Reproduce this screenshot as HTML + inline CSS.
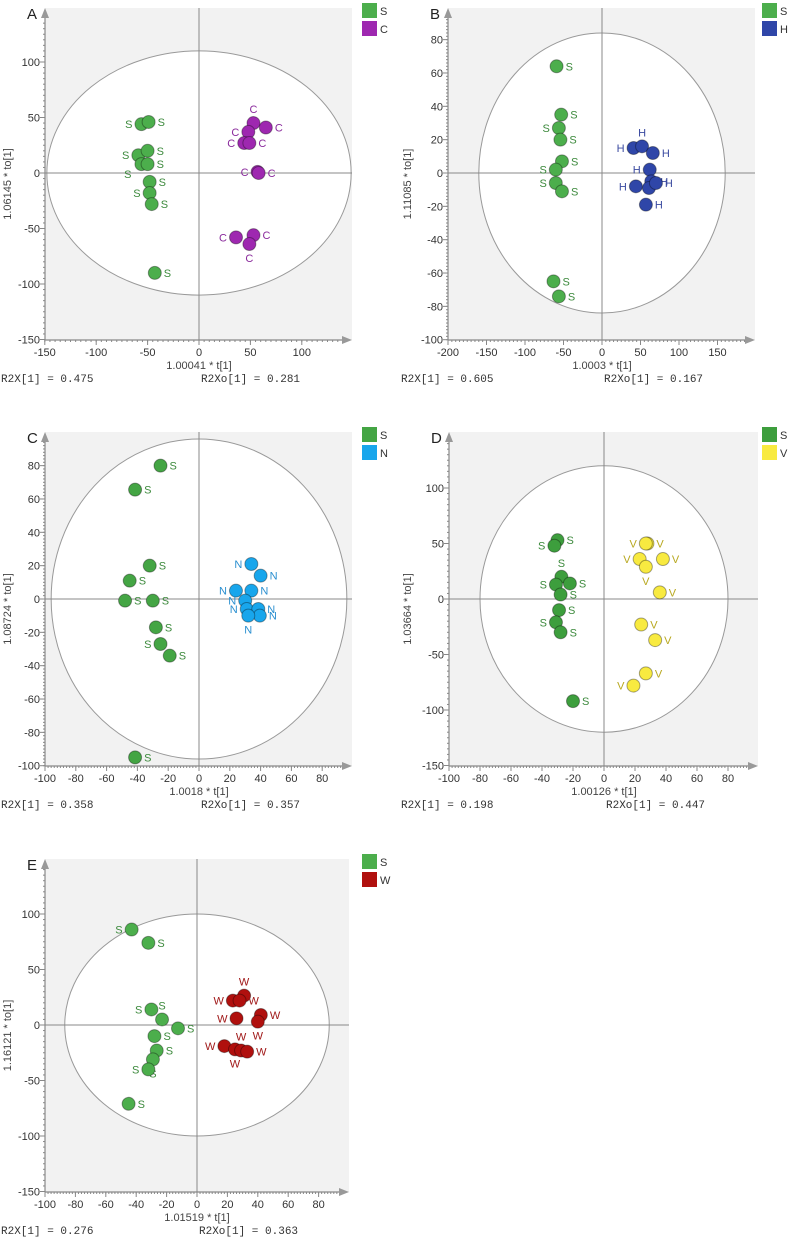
<!DOCTYPE html>
<html><head><meta charset="utf-8"><style>
html,body{margin:0;padding:0;background:#fff}
svg{display:block;font-family:"Liberation Sans",sans-serif}
</style></head><body>
<svg id="fig" width="794" height="1239" viewBox="0 0 794 1239" xmlns="http://www.w3.org/2000/svg"></svg>
<script>
// ---- Data ----
const aSx=[-56,-49,-59,-50,-56,-50,-48,-48,-46,-43];
const aSy=[44,46,16,20,8,8,-8,-18,-28,-90];
const aSl=['l','r','l','r','bl','r','r','l','r','r'];
const aGx=[53,65,48,44,49,57,58,36,53,49];
const aGy=[45,41,37,27,27,1,0,-58,-56,-64];
const aGl=['t','r','l','l','r','l','r','l','r','b'];

const bSx=[-59,-53,-56,-54,-52,-60,-60,-52,-63,-56];
const bSy=[64,35,27,20,7,2,-6,-11,-65,-74];
const bSl=['r','r','l','r','r','l','l','r','r','r'];
const bGx=[41,52,66,62,64,61,44,57,70];
const bGy=[15,16,12,2,-5,-9,-8,-19,-6];
const bGl=['l','t','r','l','r','l','l','r','r'];

const cSx=[-25,-41.5,-32,-45,-48,-30,-28,-25,-19,-41.5];
const cSy=[80,65.6,20,11,-1,-1,-17,-27,-34,-95];
const cSl=['r','r','r','r','r','r','r','l','r','r'];
const cGx=[34,40,24,34,30,31,38.5,39.5,32];
const cGy=[21,14,5,5,-1,-6,-6,-10,-10];
const cGl=['l','r','l','r','l','l','r','r','b'];

const dSx=[-30,-32,-27.5,-31,-22,-28,-29,-31,-28,-20];
const dSy=[53,48,20,13,14,4,-10,-21,-30,-92];
const dSl=['r','l','t','l','r','r','r','l','r','r'];
const dGx=[28,27,23,38,27,36,24,33,27,19];
const dGy=[50,50,36,36,29,6,-23,-37,-67,-78];
const dGl=['r','l','l','r','b','r','r','r','r','l'];

const eSx=[-43,-32,-30,-23,-12.5,-28,-26.5,-29,-32,-45];
const eSy=[86,74,14,5,-3,-10,-23,-31,-40,-71];
const eSl=['l','r','l','t','r','r','r','b','l','r'];
const eGx=[23.6,31,28,26,42,40,18,25,29,33];
const eGy=[22,26.5,22,6,9,3,-19,-22,-23,-24];
const eGl=['l','t','r','l','r','b','l','b','t','r'];

const ticks50a=[-150,-100,-50,0,50,100];
const ticksB_x=[-200,-150,-100,-50,0,50,100,150];
const ticks20y=[-100,-80,-60,-40,-20,0,20,40,60,80];
const ticks20x=[-100,-80,-60,-40,-20,0,20,40,60,80];
const ticks50d=[-150,-100,-50,0,50,100];

const NS='http://www.w3.org/2000/svg';
const svg=document.getElementById('fig');
function mk(tag,attrs,parent){const e=document.createElementNS(NS,tag);for(const k in attrs)e.setAttribute(k,attrs[k]);(parent||svg).appendChild(e);return e;}

const panels=[
 {id:'a',letter:'A',x0:199,kx:1.028,y0:173,ky:1.11,left:45,bottom:340,top:8,right:352,xt:ticks50a,yt:ticks50a,rx:148,ry:110,
  xTitle:'1.00041 * t[1]',yTitle:'1.06145 * to[1]',r2x:'0.475',r2xo:'0.281',off:0,
  S:[aSx,aSy,aSl],G:[aGx,aGy,aGl],gName:'C',gFill:'#9e28b0',gText:'#8a2a9c',sFill:'#4cae4c'},
 {id:'b',letter:'B',x0:602,kx:0.77,y0:173,ky:1.667,left:448,bottom:340,top:8,right:755,xt:ticksB_x,yt:ticks20y,rx:160,ry:84,
  xTitle:'1.0003 * t[1]',yTitle:'1.11085 * to[1]',r2x:'0.605',r2xo:'0.167',off:400,
  S:[bSx,bSy,bSl],G:[bGx,bGy,bGl],gName:'H',gFill:'#2f46a8',gText:'#3a4aa0',sFill:'#4cae4c'},
 {id:'c',letter:'C',x0:199,kx:1.54,y0:599,ky:1.667,left:45,bottom:766,top:432,right:352,xt:ticks20x,yt:ticks20y,rx:96,ry:96,
  xTitle:'1.0018 * t[1]',yTitle:'1.08724 * to[1]',r2x:'0.358',r2xo:'0.357',off:0,
  S:[cSx,cSy,cSl],G:[cGx,cGy,cGl],gName:'N',gFill:'#18a6ec',gText:'#2a8fd0',sFill:'#44a544'},
 {id:'d',letter:'D',x0:604,kx:1.55,y0:599,ky:1.11,left:449,bottom:766,top:432,right:758,xt:ticks20x,yt:ticks50d,rx:80,ry:120,
  xTitle:'1.00126 * t[1]',yTitle:'1.03664 * to[1]',r2x:'0.198',r2xo:'0.447',off:400,
  S:[dSx,dSy,dSl],G:[dGx,dGy,dGl],gName:'V',gFill:'#f8ea40',gText:'#b8a820',sFill:'#3d9e3d'},
 {id:'e',letter:'E',x0:197,kx:1.52,y0:1025,ky:1.11,left:45,bottom:1192,top:859,right:349,xt:ticks20x,yt:ticks50d,rx:87,ry:100,
  xTitle:'1.01519 * t[1]',yTitle:'1.16121 * to[1]',r2x:'0.276',r2xo:'0.363',off:0,
  S:[eSx,eSy,eSl],G:[eGx,eGy,eGl],gName:'W',gFill:'#b0100e',gText:'#a01818',sFill:'#4cae4c'}
];

panels.forEach(p=>{
  const g=mk('g',{});
  
  
  const X=v=>p.x0+v*p.kx, Y=v=>p.y0-v*p.ky;
  const bg=mk('rect',{x:p.left,y:p.top,width:p.right-p.left,height:p.bottom-p.top,fill:'#f2f2f2'},g);
  
  
  const el=mk('ellipse',{cx:X(0),cy:Y(0),rx:p.rx*p.kx,ry:p.ry*p.ky,fill:'#fff',stroke:'#999','stroke-width':1},g);
  
  
  mk('line',{x1:p.left,x2:p.right,y1:Y(0),y2:Y(0),stroke:'#888','stroke-width':1},g);
  mk('line',{x1:X(0),x2:X(0),y1:p.top,y2:p.bottom,stroke:'#888','stroke-width':1},g);
  // axes
  mk('line',{x1:p.left,x2:p.right-6,y1:p.bottom,y2:p.bottom,stroke:'#888','stroke-width':1.2},g);
  mk('line',{x1:p.left,x2:p.left,y1:p.top+6,y2:p.bottom,stroke:'#888','stroke-width':1.2},g);
  mk('polygon',{points:`${p.right},${p.bottom} ${p.right-10},${p.bottom-4} ${p.right-10},${p.bottom+4}`,fill:'#999'},g);
  mk('polygon',{points:`${p.left},${p.top} ${p.left-4},${p.top+10} ${p.left+4},${p.top+10}`,fill:'#999'},g);
  const xs=p.xt[1]-p.xt[0], ys=p.yt[1]-p.yt[0];
  for(let v=p.xt[0];X(v)<p.right-10;v+=xs/10){mk('line',{x1:X(v),x2:X(v),y1:p.bottom,y2:p.bottom+2,stroke:'#888'},g);}
  for(let v=p.yt[0];Y(v)>p.top+10;v+=ys/10){mk('line',{x1:p.left-2,x2:p.left,y1:Y(v),y2:Y(v),stroke:'#888'},g);}
  p.xt.forEach(v=>{
    mk('line',{x1:X(v),x2:X(v),y1:p.bottom,y2:p.bottom+5,stroke:'#888'},g);
    const t=mk('text',{x:X(v),y:p.bottom+16,'text-anchor':'middle','font-size':11,fill:'#333'},g);t.textContent=v;
    
    
  });
  p.yt.forEach(v=>{
    mk('line',{x1:p.left-5,x2:p.left,y1:Y(v),y2:Y(v),stroke:'#888'},g);
    const t=mk('text',{x:p.left-5,y:Y(v)+4,'text-anchor':'end','font-size':11,fill:'#333'},g);t.textContent=v;
    
    
  });
  const lt=mk('text',{x:p.left-18,y:p.top+11,'font-size':15,fill:'#222'},g);lt.textContent=p.letter;
  
  
  const xt=mk('text',{x:X(0),y:p.bottom+29,'text-anchor':'middle','font-size':11,fill:'#444'},g);xt.textContent=p.xTitle;
  
  
  const cy=(p.top+p.bottom)/2+10;
  const yt=mk('text',{x:p.off+11,y:cy,'text-anchor':'middle','font-size':11,fill:'#444',transform:`rotate(-90 ${p.off+11} ${cy})`},g);yt.textContent=p.yTitle;
  
  
  const r1=mk('text',{x:p.off+1,y:p.bottom+42,'font-size':11,'font-family':'Liberation Mono, monospace',fill:'#333'},g);r1.textContent='R2X[1] = '+p.r2x;
  
  
  const r2=mk('text',{x:X(0)+2,y:p.bottom+42,'font-size':11,'font-family':'Liberation Mono, monospace',fill:'#333'},g);r2.textContent='R2Xo[1] = '+p.r2xo;
  
  
  // legend
  const lx=p.off+362, ly=p.top-5;
  [['S',p.sFill],[p.gName,p.gFill]].forEach((it,i)=>{
    const r=mk('rect',{x:lx,y:ly+i*18,width:15,height:15,fill:it[1]},g);
    
    
    const t=mk('text',{x:lx+18,y:ly+i*18+12,'font-size':11,fill:'#333'},g);t.textContent=it[0];
    
    
  });
  function drawSeries(arr,name,fill,txt){
    const [xs,ys,ls]=arr;
    xs.forEach((v,i)=>{
      const cx=X(v), cyy=Y(ys[i]);
      const c=mk('circle',{cx:cx,cy:cyy,r:6.5,fill:fill,stroke:'rgba(0,0,0,0.35)','stroke-width':1},g);
      
      
      const s=ls[i];let dx=9,dy=4,anc='start';
      if(s==='l'){dx=-9;anc='end';}
      if(s==='t'){dx=0;dy=-10;anc='middle';}
      if(s==='b'){dx=0;dy=18;anc='middle';}
      if(s==='bl'){dx=-10;dy=14;anc='end';}
      const t=mk('text',{x:cx+dx,y:cyy+dy,'text-anchor':anc,'font-size':11,fill:txt},g);t.textContent=name;
      
      
    });
  }
  drawSeries(p.S,'S',p.sFill,'#3d8a3d');
  drawSeries(p.G,p.gName,p.gFill,p.gText);
});
</script>
</body></html>
